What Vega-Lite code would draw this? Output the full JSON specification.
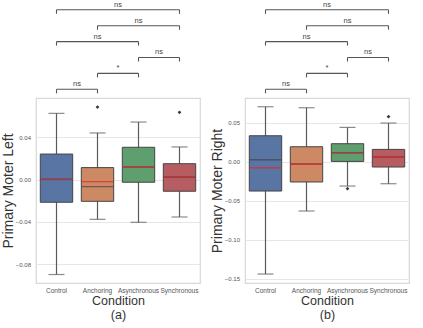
{
  "$schema": "https://vega.github.io/schema/vega-lite/v6.json",
  "padding": {"left": 0, "top": 0, "right": 0, "bottom": 0},
  "background": "white",
  "config": {
    "font": "Liberation Sans",
    "view": {"stroke": "#d8d8d8", "strokeWidth": 1.2},
    "axis": {"labelFont": "Liberation Sans", "labelColor": "#555555", "titleFont": "Liberation Sans", "titleFontWeight": "normal", "titleColor": "#333333", "ticks": false, "domain": false, "gridColor": "#e6e6e6", "gridWidth": 1},
    "axisX": {"grid": false, "labelFontSize": 6.5, "labelPadding": 4, "titleFontSize": 12.5, "titlePadding": 1, "titleLineHeight": 13.5},
    "axisY": {"labelFontSize": 6, "labelPadding": 5.5, "titleFontSize": 14, "titlePadding": 0}
  },
  "datasets": {
    "boxes": [
      {"panel": "a", "condition": "Control", "lower": -0.0896, "q1": -0.0214, "median": 0.0003, "mean": 0.0, "q3": 0.0241, "upper": 0.0625},
      {"panel": "a", "condition": "Anchoring", "lower": -0.0375, "q1": -0.0205, "median": -0.0066, "mean": -0.0019, "q3": 0.0113, "upper": 0.044},
      {"panel": "a", "condition": "Asynchronous", "lower": -0.0403, "q1": -0.0025, "median": 0.0119, "mean": 0.0121, "q3": 0.0305, "upper": 0.0543},
      {"panel": "a", "condition": "Synchronous", "lower": -0.0353, "q1": -0.011, "median": 0.0025, "mean": 0.0028, "q3": 0.015, "upper": 0.0308},
      {"panel": "b", "condition": "Control", "lower": -0.144, "q1": -0.0376, "median": 0.0026, "mean": -0.0077, "q3": 0.0333, "upper": 0.0705},
      {"panel": "b", "condition": "Anchoring", "lower": -0.0632, "q1": -0.026, "median": -0.003, "mean": -0.0032, "q3": 0.0192, "upper": 0.0692},
      {"panel": "b", "condition": "Asynchronous", "lower": -0.0312, "q1": 0.0004, "median": 0.0115, "mean": 0.0113, "q3": 0.0231, "upper": 0.044},
      {"panel": "b", "condition": "Synchronous", "lower": -0.0282, "q1": -0.0068, "median": 0.006, "mean": 0.0058, "q3": 0.0158, "upper": 0.0496}
    ],
    "outliers": [
      {"panel": "a", "condition": "Anchoring", "value": 0.0685},
      {"panel": "a", "condition": "Synchronous", "value": 0.0635},
      {"panel": "b", "condition": "Asynchronous", "value": -0.0346},
      {"panel": "b", "condition": "Synchronous", "value": 0.0577}
    ],
    "brackets": [
      {"from": 0, "to": 1, "level": 1, "label": "ns"},
      {"from": 1, "to": 2, "level": 2, "label": "*"},
      {"from": 2, "to": 3, "level": 3, "label": "ns"},
      {"from": 0, "to": 2, "level": 4, "label": "ns"},
      {"from": 1, "to": 3, "level": 5, "label": "ns"},
      {"from": 0, "to": 3, "level": 6, "label": "ns"}
    ]
  },
  "spacing": 8,
  "hconcat": [
    {
      "width": 164,
      "height": 185,
      "resolve": {"scale": {"x": "independent", "y": "independent"}},
      "layer": [
        {
          "data": {"name": "boxes"},
          "transform": [{"filter": "datum.panel === 'a'"}],
          "encoding": {
            "x": {"field": "condition", "type": "nominal", "sort": ["Control", "Anchoring", "Asynchronous", "Synchronous"], "scale": {"paddingInner": 0, "paddingOuter": 0}, "axis": {"title": ["Condition", "(a)"], "labelAngle": 0}}
          },
          "layer": [
            {"mark": {"type": "rule", "color": "#5a5a5a", "strokeWidth": 1.2},
             "encoding": {"y": {"field": "lower", "type": "quantitative", "title": "Primary Moter Left", "scale": {"domain": [-0.0976, 0.077], "nice": false, "zero": false}, "axis": {"values": [-0.08, -0.06, -0.04, -0.02, 0, 0.02, 0.04, 0.06], "format": ".2f"}}, "y2": {"field": "upper"}}},
            {"mark": {"type": "tick", "color": "#5a5a5a", "size": 16, "thickness": 1.2},
             "encoding": {"y": {"field": "lower", "type": "quantitative", "title": "Primary Moter Left"}}},
            {"mark": {"type": "tick", "color": "#5a5a5a", "size": 16, "thickness": 1.2},
             "encoding": {"y": {"field": "upper", "type": "quantitative", "title": "Primary Moter Left"}}},
            {"mark": {"type": "bar", "stroke": "#444444", "strokeWidth": 1, "width": {"band": 0.79}},
             "encoding": {"y": {"field": "q1", "type": "quantitative", "title": "Primary Moter Left"}, "y2": {"field": "q3"},
               "fill": {"field": "condition", "type": "nominal", "scale": {"domain": ["Control", "Anchoring", "Asynchronous", "Synchronous"], "range": ["#5975a4", "#cc8963", "#5f9e6e", "#b55d60"]}, "legend": null}}},
            {"mark": {"type": "tick", "color": "#444444", "size": 32, "thickness": 1.4},
             "encoding": {"y": {"field": "median", "type": "quantitative", "title": "Primary Moter Left"}}},
            {"mark": {"type": "tick", "color": "#e0262b", "size": 32, "thickness": 1.4},
             "encoding": {"y": {"field": "mean", "type": "quantitative", "title": "Primary Moter Left"}}},
            {"data": {"name": "outliers"},
             "transform": [{"filter": "datum.panel === 'a'"}],
             "mark": {"type": "point", "shape": "diamond", "filled": true, "size": 14, "color": "#3a3a3a", "opacity": 1},
             "encoding": {"y": {"field": "value", "type": "quantitative", "title": "Primary Moter Left"}}}
          ]
        },
        {
          "data": {"name": "brackets"},
          "transform": [{"calculate": "(datum.from + datum.to) / 2", "as": "mid"}],
          "encoding": {
            "y": {"field": "level", "type": "quantitative", "scale": {"domain": [-11.18, 0.453], "nice": false, "zero": false}, "axis": null}
          },
          "layer": [
            {"mark": {"type": "rule", "color": "#555555", "strokeWidth": 1.1},
             "encoding": {"x": {"field": "from", "type": "quantitative", "scale": {"domain": [-0.5, 3.5], "nice": false, "zero": false}, "axis": null}, "x2": {"field": "to"}}},
            {"mark": {"type": "rule", "color": "#555555", "strokeWidth": 1.1, "y2Offset": 4},
             "encoding": {"x": {"field": "from", "type": "quantitative"}, "y2": {"field": "level"}}},
            {"mark": {"type": "rule", "color": "#555555", "strokeWidth": 1.1, "y2Offset": 4},
             "encoding": {"x": {"field": "to", "type": "quantitative"}, "y2": {"field": "level"}}},
            {"mark": {"type": "text", "fontSize": 7.5, "color": "#444444", "baseline": "bottom", "dy": -1},
             "encoding": {"x": {"field": "mid", "type": "quantitative"}, "text": {"field": "label"}}}
          ]
        }
      ]
    },
    {
      "width": 164,
      "height": 185,
      "resolve": {"scale": {"x": "independent", "y": "independent"}},
      "layer": [
        {
          "data": {"name": "boxes"},
          "transform": [{"filter": "datum.panel === 'b'"}],
          "encoding": {
            "x": {"field": "condition", "type": "nominal", "sort": ["Control", "Anchoring", "Asynchronous", "Synchronous"], "scale": {"paddingInner": 0, "paddingOuter": 0}, "axis": {"title": ["Condition", "(b)"], "labelAngle": 0}}
          },
          "layer": [
            {"mark": {"type": "rule", "color": "#5a5a5a", "strokeWidth": 1.2},
             "encoding": {"y": {"field": "lower", "type": "quantitative", "title": "Primary Moter Right", "scale": {"domain": [-0.1555, 0.0817], "nice": false, "zero": false}, "axis": {"values": [-0.15, -0.1, -0.05, 0, 0.05], "format": ".2f"}}, "y2": {"field": "upper"}}},
            {"mark": {"type": "tick", "color": "#5a5a5a", "size": 16, "thickness": 1.2},
             "encoding": {"y": {"field": "lower", "type": "quantitative", "title": "Primary Moter Right"}}},
            {"mark": {"type": "tick", "color": "#5a5a5a", "size": 16, "thickness": 1.2},
             "encoding": {"y": {"field": "upper", "type": "quantitative", "title": "Primary Moter Right"}}},
            {"mark": {"type": "bar", "stroke": "#444444", "strokeWidth": 1, "width": {"band": 0.79}},
             "encoding": {"y": {"field": "q1", "type": "quantitative", "title": "Primary Moter Right"}, "y2": {"field": "q3"},
               "fill": {"field": "condition", "type": "nominal", "scale": {"domain": ["Control", "Anchoring", "Asynchronous", "Synchronous"], "range": ["#5975a4", "#cc8963", "#5f9e6e", "#b55d60"]}, "legend": null}}},
            {"mark": {"type": "tick", "color": "#444444", "size": 32, "thickness": 1.4},
             "encoding": {"y": {"field": "median", "type": "quantitative", "title": "Primary Moter Right"}}},
            {"mark": {"type": "tick", "color": "#e0262b", "size": 32, "thickness": 1.4},
             "encoding": {"y": {"field": "mean", "type": "quantitative", "title": "Primary Moter Right"}}},
            {"data": {"name": "outliers"},
             "transform": [{"filter": "datum.panel === 'b'"}],
             "mark": {"type": "point", "shape": "diamond", "filled": true, "size": 14, "color": "#3a3a3a", "opacity": 1},
             "encoding": {"y": {"field": "value", "type": "quantitative", "title": "Primary Moter Right"}}}
          ]
        },
        {
          "data": {"name": "brackets"},
          "transform": [{"calculate": "(datum.from + datum.to) / 2", "as": "mid"}],
          "encoding": {
            "y": {"field": "level", "type": "quantitative", "scale": {"domain": [-11.18, 0.453], "nice": false, "zero": false}, "axis": null}
          },
          "layer": [
            {"mark": {"type": "rule", "color": "#555555", "strokeWidth": 1.1},
             "encoding": {"x": {"field": "from", "type": "quantitative", "scale": {"domain": [-0.5, 3.5], "nice": false, "zero": false}, "axis": null}, "x2": {"field": "to"}}},
            {"mark": {"type": "rule", "color": "#555555", "strokeWidth": 1.1, "y2Offset": 4},
             "encoding": {"x": {"field": "from", "type": "quantitative"}, "y2": {"field": "level"}}},
            {"mark": {"type": "rule", "color": "#555555", "strokeWidth": 1.1, "y2Offset": 4},
             "encoding": {"x": {"field": "to", "type": "quantitative"}, "y2": {"field": "level"}}},
            {"mark": {"type": "text", "fontSize": 7.5, "color": "#444444", "baseline": "bottom", "dy": -1},
             "encoding": {"x": {"field": "mid", "type": "quantitative"}, "text": {"field": "label"}}}
          ]
        }
      ]
    }
  ]
}
